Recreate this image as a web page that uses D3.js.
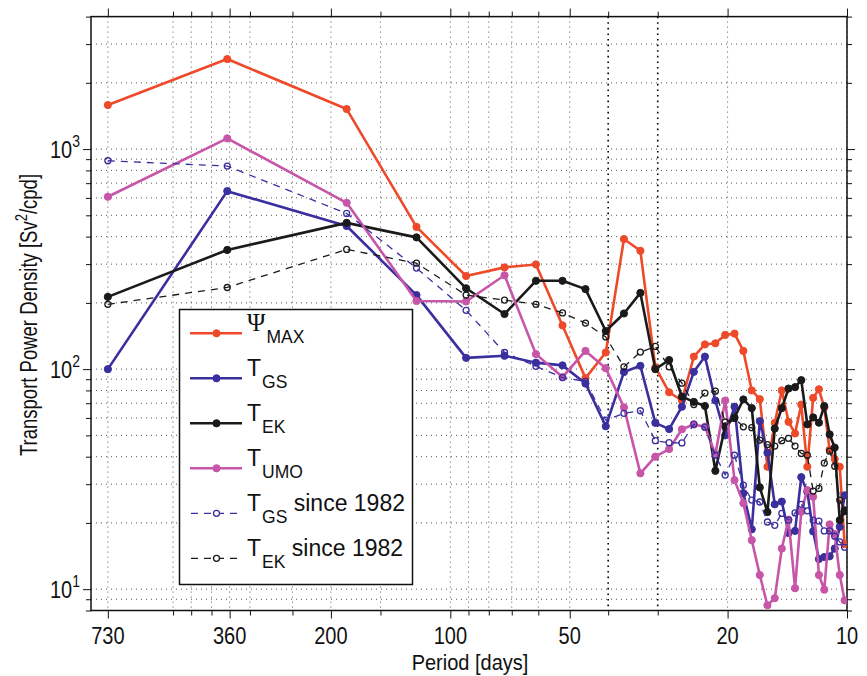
<!DOCTYPE html>
<html><head><meta charset="utf-8">
<script src="https://cdn.jsdelivr.net/npm/d3@7"></script>
<style>body{margin:0;background:#fff}svg{display:block}text{font-family:"Liberation Sans",Arial,Helvetica,sans-serif}</style>
</head><body>
<svg id="c" width="867" height="676"></svg>
<script>
const periods = [730,365,182.5,121.7,91.25,73,60.83,52.14,45.63,40.56,36.5,33.18,30.42,28.08,26.07,24.33,22.81,21.47,20.28,19.21,18.25,17.38,16.59,15.87,15.21,14.6,14.04,13.52,13.04,12.59,12.17,11.77,11.41,11.06,10.74,10.43,10.14];
const psiMax = [1585,2565,1520,443,265,290,299,158,91,119,390,345,102,78.5,72,114,129.5,131,143,145,121,80,73,36,57,80,57.6,51,69,36,74,81,67,43,39,36,16];
const tGS = [100,644,447,217,112.5,115,107,104,86,55,97,103.5,57,53.4,67.5,97.2,114,72,50,67.5,27.3,18.7,58,41.7,24.3,25,18,18.4,32.3,27.7,18.3,13.7,14,14.1,15.3,19.2,26.7];
const tEK = [213,348,462,397,233,178,252,252,231,149,179,222,100,110,75,71,68,34.5,55,60.3,72.8,66.5,29,22.4,53.7,66.5,81.6,82.8,89.1,56.1,60.3,57.1,67.9,50.5,44,20.6,22.6];
const tUMO = [607,1118,570,204,203,267,117,92,121,101,67,33.6,40,43.3,53.3,56,54.7,41,72,31.3,24.6,16.7,11.6,8.45,9.1,15.3,20.7,10.1,22.5,28.2,26.3,11.6,9.95,19.7,17.8,11.6,8.9];
const tGS82 = [885,837,510,288,185,119,103,91.5,88,58.6,63,64.7,47.3,46.3,46.2,56.2,54.5,40.6,33,40.6,29.7,25.4,24.9,20.2,19.5,22.1,20.6,22.2,24.3,22.7,20.6,20.4,18.4,18.4,17.4,16.4,15.5];
const tEK82 = [197,235,350,303,217,206,197,180,162,140,102.4,119.5,126.8,102.4,86.3,69,77.8,79.4,57.5,59.7,54.7,54.2,47.6,45.4,44.7,47.3,48.5,44.7,41.4,40.6,27.9,28.7,37.4,42.4,36.2,25.4,22.9];

const xMajor = [730,360,200,100,50,20,10];
const xMinor = [500,450,400,320,250,150,90,80,70,60,40,30];
const yMajor = [10,100,1000];
const yMinor = [8,9,20,30,40,50,60,70,80,90,200,300,400,500,600,700,800,900,2000,3000,4000];
const yLabelExp = ["1","2","3"];

const series = [
  {name:"Ψ", sub:"MAX", extra:"", data:psiMax, color:"#ee4a2a", dashed:false},
  {name:"T", sub:"GS", extra:"", data:tGS, color:"#3a2f9e", dashed:false},
  {name:"T", sub:"EK", extra:"", data:tEK, color:"#1a1a1a", dashed:false},
  {name:"T", sub:"UMO", extra:"", data:tUMO, color:"#c755a8", dashed:false},
  {name:"T", sub:"GS", extra:" since 1982", data:tGS82, color:"#3a2f9e", dashed:true},
  {name:"T", sub:"EK", extra:" since 1982", data:tEK82, color:"#1a1a1a", dashed:true}
];

const L=91, R=847, T=16.6, B=610.5;
const x = d3.scaleLog().domain([805,10]).range([L,R]);
const y = d3.scaleLog().domain([8,4000]).range([B,T]);
const svg = d3.select("#c");
const VS = 1.15; // axis text in the reference is narrow and tall

// grid
const g = svg.append("g");
xMajor.concat(xMinor).forEach(v=>{
  const heavy = (v===40||v===30);
  g.append("line").attr("x1",x(v)).attr("x2",x(v)).attr("y1",T).attr("y2",B)
   .attr("stroke",heavy?"#000":"#555").attr("stroke-width",heavy?1.6:1)
   .attr("stroke-dasharray",heavy?"1.6,4":"1,4");
});
yMajor.concat(yMinor).forEach(v=>{
  g.append("line").attr("x1",L).attr("x2",R).attr("y1",y(v)).attr("y2",y(v))
   .attr("stroke","#555").attr("stroke-width",1).attr("stroke-dasharray","1,4");
});

// axes (ticks outward, box)
const axB = d3.axisBottom(x).tickValues(xMajor).tickSize(8).tickFormat("");
const axBm = d3.axisBottom(x).tickValues(xMinor).tickSize(5).tickFormat("");
const axT = d3.axisTop(x).tickValues(xMajor).tickSize(8).tickFormat("");
const axTm = d3.axisTop(x).tickValues(xMinor).tickSize(5).tickFormat("");
const axL = d3.axisLeft(y).tickValues(yMajor).tickSize(8).tickFormat("");
const axLm = d3.axisLeft(y).tickValues(yMinor).tickSize(5).tickFormat("");
const axR = d3.axisRight(y).tickValues(yMajor).tickSize(8).tickFormat("");
const axRm = d3.axisRight(y).tickValues(yMinor).tickSize(5).tickFormat("");
function styleAx(sel){sel.select(".domain").remove();sel.selectAll("line").attr("stroke","#111").attr("stroke-width",1);}
styleAx(svg.append("g").attr("transform",`translate(0,${B})`).call(axB));
styleAx(svg.append("g").attr("transform",`translate(0,${B})`).call(axBm));
styleAx(svg.append("g").attr("transform",`translate(0,${T})`).call(axT));
styleAx(svg.append("g").attr("transform",`translate(0,${T})`).call(axTm));
styleAx(svg.append("g").attr("transform",`translate(${L},0)`).call(axL));
styleAx(svg.append("g").attr("transform",`translate(${L},0)`).call(axLm));
styleAx(svg.append("g").attr("transform",`translate(${R},0)`).call(axR));
styleAx(svg.append("g").attr("transform",`translate(${R},0)`).call(axRm));

// x tick labels
xMajor.forEach(v=>{
  svg.append("text").attr("transform",`translate(${x(v)},644) scale(1,${VS})`).attr("text-anchor","middle")
    .attr("font-size",20).attr("fill","#111").text(v);
});

svg.append("rect").attr("x",L).attr("y",T).attr("width",R-L).attr("height",B-T)
  .attr("fill","none").attr("stroke","#111").attr("stroke-width",1.5);

// y labels
yMajor.forEach((v,i)=>{
  const t = svg.append("text").attr("transform",`translate(80,${y(v)+9}) scale(1,1.2)`).attr("text-anchor","end")
    .attr("font-size",20).attr("fill","#111");
  t.append("tspan").text("10");
  t.append("tspan").attr("dy",-9).attr("font-size",14).text(yLabelExp[i]);
});

// axis titles
svg.append("text").attr("transform",`translate(470,670) scale(1,1.1)`).attr("text-anchor","middle").attr("font-size",20).attr("fill","#111").text("Period [days]");
const yt = svg.append("text").attr("transform","translate(37,315) rotate(-90) scale(1,1.25)").attr("text-anchor","middle").attr("font-size",18.5).attr("fill","#111");
yt.append("tspan").text("Transport Power Density [Sv");
yt.append("tspan").attr("dy",-8).attr("font-size",13).text("2");
yt.append("tspan").attr("dy",8).text("/cpd]");

// series
const line = d3.line().x((d,i)=>x(periods[i])).y(d=>y(d));
svg.append("clipPath").attr("id","pc").append("rect").attr("x",L).attr("y",T).attr("width",R-L).attr("height",B-T);
const pg = svg.append("g").attr("clip-path","url(#pc)");
series.forEach(s=>{
  pg.append("path").datum(s.data).attr("d",line).attr("fill","none")
    .attr("stroke",s.color).attr("stroke-width",s.dashed?1.3:2.6)
    .attr("stroke-dasharray",s.dashed?"7,6":null).attr("stroke-linejoin","round");
  pg.selectAll(null).data(s.data).enter().append("circle")
    .attr("cx",(d,i)=>x(periods[i])).attr("cy",d=>y(d))
    .attr("r",s.dashed?3:3.6)
    .attr("fill",s.dashed?"none":s.color).attr("stroke",s.color).attr("stroke-width",s.dashed?1.3:1);
});

// legend
const lg = svg.append("g");
lg.append("rect").attr("x",179.5).attr("y",309.5).attr("width",233).attr("height",275)
  .attr("fill","#fff").attr("stroke","#111").attr("stroke-width",1.5);
series.forEach((s,i)=>{
  const cy = 333.3 + i*45;
  lg.append("line").attr("x1",190).attr("x2",242).attr("y1",cy).attr("y2",cy)
    .attr("stroke",s.color).attr("stroke-width",s.dashed?1.3:2.6).attr("stroke-dasharray",s.dashed?"7,6":null)
    .attr("stroke-dashoffset",s.dashed?-1:0);
  lg.append("circle").attr("cx",216.5).attr("cy",cy).attr("r",s.dashed?3:3.6)
    .attr("fill",s.dashed?"#fff":s.color).attr("stroke",s.color).attr("stroke-width",s.dashed?1.3:1);
  const t = lg.append("text").attr("x",247).attr("y",cy-2).attr("font-size",23).attr("fill","#111");
  t.append("tspan").attr("font-family",s.name==="Ψ"?"Liberation Serif, DejaVu Serif, serif":null)
    .attr("font-size",s.name==="Ψ"?25:23).text(s.name);
  t.append("tspan").attr("dy",12).attr("dx",1).attr("font-size",17.5).text(s.sub);
  if(s.extra) t.append("tspan").attr("dy",-12).attr("font-size",23).text(s.extra);
});
</script>
</body></html>
